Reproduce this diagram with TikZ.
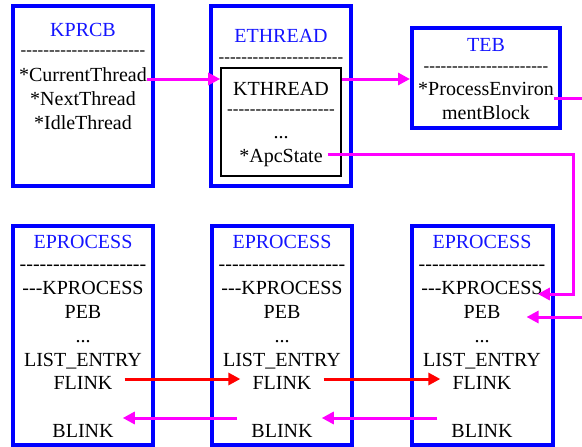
\documentclass[tikz,border=0pt]{standalone}
\usepackage{fontspec}
\setmainfont{Liberation Serif}
\usetikzlibrary{arrows.meta}
\definecolor{boxblue}{RGB}{0,0,255}
\definecolor{titleblue}{RGB}{20,20,255}
\definecolor{mag}{RGB}{255,0,255}
\definecolor{redarr}{RGB}{255,0,0}
\ExplSyntaxOn
\NewDocumentCommand\dashrow{m}{\prg_replicate:nn{#1}{\mbox{-}}}
\ExplSyntaxOff
\begin{document}
\begin{tikzpicture}[x=1pt,y=-1pt,
  txt/.style={font=\fontsize{20}{24}\selectfont, inner sep=0pt, anchor=base},
  title/.style={txt, text=titleblue},
  dsh/.style={font=\fontsize{17}{20}\selectfont, inner sep=0pt, anchor=base},
  bigdsh/.style={font=\fontsize{20}{24}\selectfont, inner sep=0pt, anchor=base},
  bluebox/.style={draw=boxblue, line width=4pt, inner sep=0pt},
  innerbox/.style={draw=black, line width=1.6pt, inner sep=0pt},
  magarrow/.style={draw=mag, line width=3pt, -{Triangle[length=12pt,width=12pt]}},
  magline/.style={draw=mag, line width=3pt},
  redarrow/.style={draw=redarr, line width=3pt, -{Triangle[length=12pt,width=12pt]}}]
\useasboundingbox (0,0) rectangle (582,447);
\fill[white] (0,0) rectangle (582,447);
\clip (0,0) rectangle (582,447);

% boxes
\node[bluebox, minimum width=140pt, minimum height=180pt] (kprcb) at (83,96) {};
\node[bluebox, minimum width=140pt, minimum height=180pt] (ethread) at (281,96) {};
\node[innerbox, minimum width=120pt, minimum height=108pt] (kth) at (281,122) {};
\node[bluebox, minimum width=148pt, minimum height=100pt] (teb) at (486,78) {};
\node[bluebox, minimum width=140pt, minimum height=219pt] (ep1) at (83,335.5) {};
\node[bluebox, minimum width=140pt, minimum height=219pt] (ep2) at (282,335.5) {};
\node[bluebox, minimum width=141pt, minimum height=219pt] (ep3) at (482.5,335.5) {};

% KPRCB
\node[title] (kprcbT) at (83,37) {KPRCB};
\node[dsh] (kprcbD) at (83,56) {\dashrow{22}};
\node[txt] (cur) at (83,81) {*CurrentThread};
\node[txt] (nxt) at (83,105) {*NextThread};
\node[txt] (idl) at (83,129) {*IdleThread};

% ETHREAD
\node[title] (ethT) at (281,42.5) {ETHREAD};
\node[dsh] (ethD) at (281,62) {\dashrow{22}};
\node[txt] (kthT) at (281,95) {KTHREAD};
\node[dsh] (kthD) at (281,114) {\dashrow{19}};
\node[txt] (kthDots) at (281,138) {...};
\node[txt] (apc) at (281,162) {*ApcState};

% TEB
\node[title] (tebT) at (486,51) {TEB};
\node[dsh] (tebD) at (486,71) {\dashrow{22}};
\node[txt] (pe) at (486,95) {*ProcessEnviron};
\node[txt] (mb) at (486,119) {mentBlock};

% EPROCESS boxes
\foreach \i/\cx in {1/83, 2/282, 3/482} {
  \node[title] (epT\i) at (\cx,248) {EPROCESS};
  \node[bigdsh] (epD\i) at (\cx,270) {\dashrow{19}};
  \node[txt] (kp\i) at (\cx,294) {\dashrow{3}KPROCESS};
  \node[txt] (peb\i) at (\cx,318) {PEB};
  \node[txt] (epDots\i) at (\cx,342) {...};
  \node[txt] (le\i) at (\cx,366) {LIST\_ENTRY};
  \node[txt] (fl\i) at (\cx,389) {FLINK};
  \node[txt] (bl\i) at (\cx,437) {BLINK};
}

% helper coordinates
\coordinate (yA) at (0,79);
\coordinate (xA) at (573,0);
\coordinate (xB) at (595,0);

% connectors
\draw[magarrow] ([yshift=2pt]cur.base east) -- ([yshift=2pt]cur.base east -| kth.west);
\draw[magarrow] (kth.east |- yA) -- (teb.west |- yA);
\draw[magarrow] ([xshift=5pt,yshift=8pt]apc.base east) -| (xA |- kp3.base) -- ([xshift=-5pt]kp3.base east);
\draw[magarrow] ([yshift=-3pt]pe.base east) -| ([yshift=1pt]xB |- peb3.base) -- ([xshift=26pt,yshift=1pt]peb3.base east);

\draw[redarrow] ([xshift=12pt,yshift=10pt]fl1.base east) -- ([xshift=-12pt,yshift=10pt]fl2.base west);
\draw[redarrow] ([xshift=12pt,yshift=10pt]fl2.base east) -- ([xshift=-12pt,yshift=10pt]fl3.base west);
\draw[magarrow] ([xshift=-14pt,yshift=19pt]bl2.base west) -- ([xshift=9pt,yshift=19pt]bl1.base east);
\draw[magarrow] ([xshift=-14pt,yshift=19pt]bl3.base west) -- ([xshift=9pt,yshift=19pt]bl2.base east);
\end{tikzpicture}
\end{document}
